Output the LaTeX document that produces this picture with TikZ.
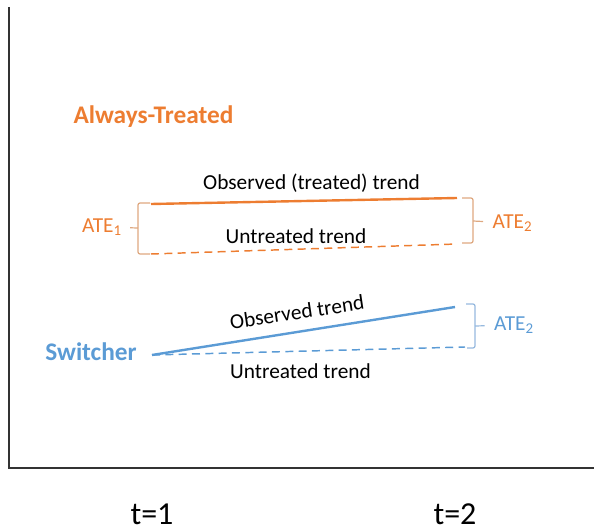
\documentclass[tikz,border=0pt]{standalone}
\usepackage{fontspec}
\setmainfont{Carlito}
\usepackage{tikz}
\usetikzlibrary{positioning}
\definecolor{orng}{RGB}{237,125,49}
\definecolor{blu}{RGB}{91,155,213}
\definecolor{orngbrk}{RGB}{222,168,128}
\definecolor{blubrk}{RGB}{150,185,222}
\tikzstyle{axis}=[draw=black!80, line width=1.1pt]
\tikzstyle{obs}=[line width=1.8pt]
\tikzstyle{unt}=[line width=1.1pt, dash pattern=on 6pt off 4pt]
\tikzstyle{brk}=[line width=0.9pt, rounded corners=1.5pt]
\tikzstyle{grp}=[font=\fontsize{19}{21}\selectfont\bfseries, inner sep=0pt]
\tikzstyle{lbl}=[font=\fontsize{16}{18}\selectfont, inner sep=0pt]
\tikzstyle{tlbl}=[font=\fontsize{24}{26}\selectfont, inner sep=0pt]

\begin{document}
\begin{tikzpicture}[x=0.75pt,y=-0.75pt]
    \useasboundingbox (0,0) rectangle (594,528);
    % axes
    \coordinate (ytop) at (9,7);
    \coordinate (orig) at (9,468);
    \coordinate (xend) at (594,468);
    \draw [axis] (ytop) -- (orig) -- (xend);
    \node [tlbl] (t1) at (152,514) {t=1};
    \node [tlbl] (t2) at (455,514) {t=2};

    % always-treated
    \node [grp, text=orng] (always) at (153.5,117) {Always-Treated};
    \coordinate (a0) at (151,204);
    \coordinate (a1) at (457,198);
    \coordinate (c0) at (151,254);
    \coordinate (c1) at (457,244);
    \draw [obs, orng] (a0) -- (a1);
    \draw [unt, orng] (c0) -- (c1);
    \node [lbl] (aobs) at (311.5,183) {Observed (treated) trend};
    \node [lbl] (aunt) at (296,236) {Untreated trend};
    \node [lbl, text=orng] (ate1) at (102,227) {ATE\textsubscript{1}};
    \node [lbl, text=orng] (ate2a) at (512.5,223) {ATE\textsubscript{2}};
    \coordinate (lb) at (138,228);
    \coordinate (rb) at (473,221);
    \draw [brk, orngbrk] (150,203) -- (138,203) -- (138,254) -- (150,254);
    \draw [brk, orngbrk] (462,198) -- (473,198) -- (473,243) -- (462,243);
    \draw [brk, orngbrk, shorten >=6pt] (lb) -- (ate1);
    \draw [brk, orngbrk, shorten >=7pt] (rb) -- (ate2a);

    % switcher
    \node [grp, text=blu] (switch) at (91,352) {Switcher};
    \coordinate (s0) at (152,355);
    \coordinate (s1) at (455,307);
    \coordinate (s2) at (465,347);
    \draw [obs, blu] (s0) -- (s1);
    \draw [unt, blu] (s0) -- (s2);
    \node [lbl, rotate=8.5] (sobs) at (297,312) {Observed trend};
    \node [lbl] (sunt) at (300.5,371.5) {Untreated trend};
    \node [lbl, text=blu] (ate2b) at (514,325) {ATE\textsubscript{2}};
    \coordinate (sb) at (475,326);
    \draw [brk, blubrk] (466,304) -- (475,304) -- (475,348) -- (467,348);
    \draw [brk, blubrk, shorten >=7pt] (sb) -- (ate2b);
\end{tikzpicture}
\end{document}
